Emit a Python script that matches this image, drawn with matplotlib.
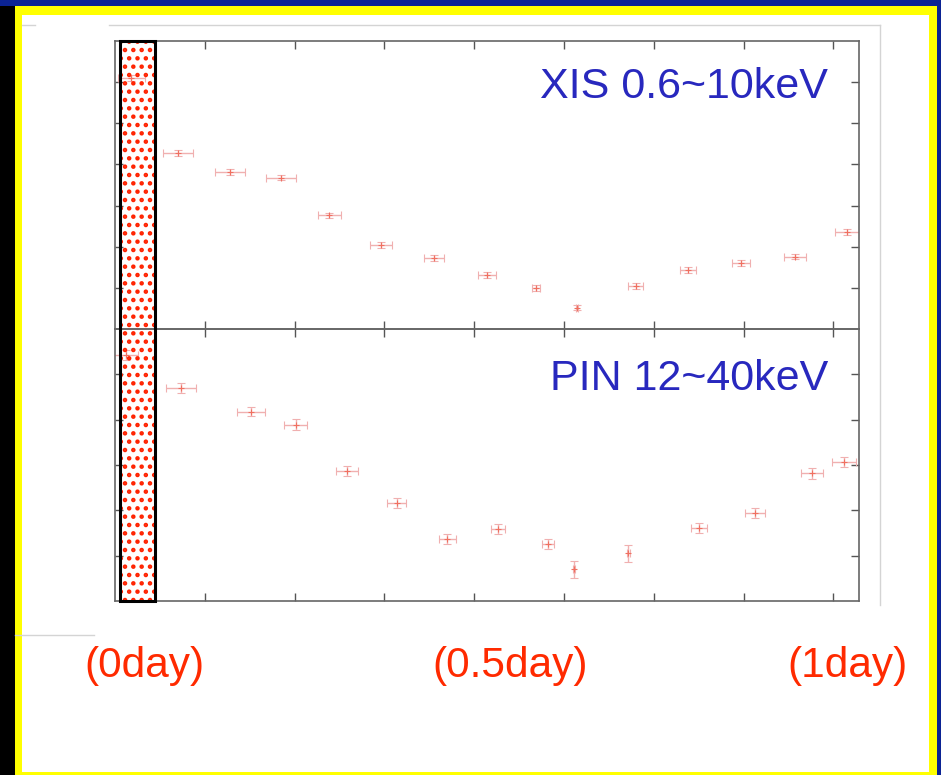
import matplotlib
matplotlib.use("Agg")
import matplotlib.pyplot as plt
from matplotlib.patches import Rectangle
from matplotlib.lines import Line2D
from matplotlib.transforms import blended_transform_factory
import numpy as np

plt.rcParams['font.family'] = ['Liberation Sans', 'DejaVu Sans']
plt.rcParams['hatch.linewidth'] = 2.0

# time bins (1e4 s), half bin widths, rates and rate errors
t_xis = [0.18, 0.705, 1.281, 1.849, 2.386, 2.965, 3.552, 4.143, 4.688, 5.148, 5.798, 6.384, 6.971, 7.569, 8.155]
terr_xis = [0.15, 0.167, 0.164, 0.164, 0.126, 0.122, 0.111, 0.100, 0.048, 0.011, 0.084, 0.089, 0.100, 0.122, 0.137]
rate_xis = [6.10, 4.27, 3.81, 3.68, 2.76, 2.04, 1.73, 1.31, 0.99, 0.52, 1.05, 1.43, 1.60, 1.76, 2.35]
rerr_xis = [0.07] * 15

t_pin = [0.122, 0.735, 1.514, 2.012, 2.587, 3.137, 3.700, 4.262, 4.818, 5.111, 5.716, 6.503, 7.127, 7.765, 8.118]
terr_pin = [0.13, 0.170, 0.159, 0.128, 0.122, 0.106, 0.092, 0.078, 0.067, 0.011, 0.017, 0.089, 0.106, 0.122, 0.134]
rate_pin = [5.43, 4.70, 4.18, 3.89, 2.87, 2.16, 1.37, 1.58, 1.26, 0.70, 1.05, 1.61, 1.95, 2.82, 3.07]
rerr_pin = [0.11, 0.11, 0.11, 0.12, 0.11, 0.11, 0.11, 0.11, 0.11, 0.19, 0.18, 0.12, 0.11, 0.12, 0.11]

# shaded interval at the start of the observation
on_start, on_end = 0.056, 0.445

band_labels = ["XIS 0.6~10keV", "PIN 12~40keV"]
day_labels = ["(0day)", "(0.5day)", "(1day)"]
day_label_x = [144, 510, 847]

W, H = 941, 775
fig = plt.figure(figsize=(W / 100, H / 100), dpi=100)
fig.patch.set_facecolor("white")


def px_rect(x0, y0, x1, y1, color, z=-10):
    # rectangle given in pixel coords (origin top-left)
    r = Rectangle((x0 / W, 1 - y1 / H), (x1 - x0) / W, (y1 - y0) / H,
                  transform=fig.transFigure, facecolor=color, edgecolor="none", zorder=z)
    fig.add_artist(r)


def px_line(xs, ys, color="#d4d4d4", lw=1.0):
    fig.add_artist(Line2D([x / W for x in xs], [1 - y / H for y in ys],
                          transform=fig.transFigure, color=color, lw=lw, zorder=-5))


# slide frame
px_rect(0, 0, W, H, "#0b2394", z=-20)
px_rect(0, 6, 15, H, "black", z=-19)
px_rect(15, 6, 937, H, "#ffff00", z=-18)
px_rect(22, 15, 929, 772, "white", z=-17)
px_line([22, 35], [25, 25])
px_line([109, 880], [25, 25])
px_line([880, 880], [25, 605])
px_line([15, 94], [635, 635])

left, right = 115 / W, 859 / W
ax_xis = fig.add_axes([left, 1 - 329 / H, right - left, 288 / H])
ax_pin = fig.add_axes([left, 1 - 601 / H, right - left, 272 / H])

err_kw = dict(fmt="+", color="#f07060", ms=5, mew=0.8, ecolor="#f0b0b0",
              elinewidth=1.0, capsize=3, capthick=1.0)
ax_xis.errorbar(t_xis, rate_xis, xerr=terr_xis, yerr=rerr_xis, **err_kw)
ax_pin.errorbar(t_pin, rate_pin, xerr=terr_pin, yerr=rerr_pin, **err_kw)

ax_xis.set_ylim(0, 7)
ax_pin.set_ylim(0, 6)
for ax in (ax_xis, ax_pin):
    ax.set_xlim(0, 8.285)
    ax.set_xticks(np.arange(1, 9))
    ax.set_yticks(np.arange(1, 7) if ax is ax_xis else np.arange(1, 6))
    ax.tick_params(direction="in", length=6, width=1.0, color="#555555",
                   top=True, right=True, labelbottom=False, labelleft=False)
    for s in ax.spines.values():
        s.set_color("#666666")
        s.set_linewidth(1.2)
    ax.set_facecolor("none")

# shaded interval spanning both panels
tr = blended_transform_factory(ax_pin.transData, fig.transFigure)
y_lo, y_hi = 1 - 601 / H, 1 - 41 / H
fig.add_artist(Rectangle((on_start, y_lo), on_end - on_start, y_hi - y_lo, transform=tr,
                         facecolor="none", edgecolor="#ff2200", hatch="..", lw=0, zorder=3))
fig.add_artist(Rectangle((on_start, y_lo), on_end - on_start, y_hi - y_lo, transform=tr,
                         facecolor="none", edgecolor="black", lw=2.2, zorder=4))

# band labels
fig.text(828 / W, 1 - 98 / H, band_labels[0], color="#2828be", fontsize=31,
         ha="right", va="baseline")
fig.text(828 / W, 1 - 390 / H, band_labels[1], color="#2828be", fontsize=31,
         ha="right", va="baseline")

# day markers
for lab, x in zip(day_labels, day_label_x):
    fig.text(x / W, 1 - 677 / H, lab, color="#ff2a00", fontsize=30.5,
             ha="center", va="baseline")

fig.savefig("out.png", dpi=100)
